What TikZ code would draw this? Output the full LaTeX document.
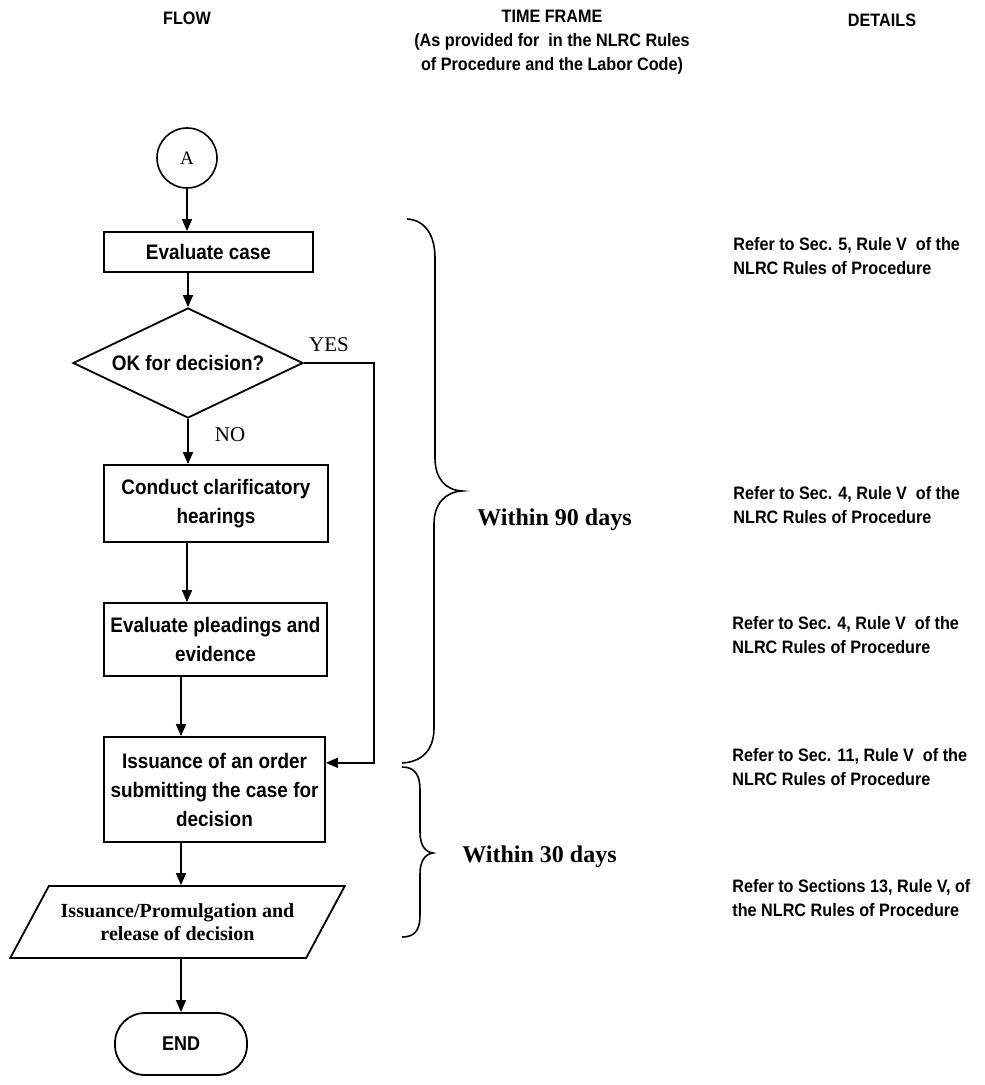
\documentclass[tikz,border=0pt]{standalone}
\usepackage{fontspec}
\setmainfont{Liberation Serif}
\newfontfamily\flowsans[FakeStretch=0.9]{Liberation Sans}
\usetikzlibrary{shapes.geometric,arrows.meta,calc}

\tikzset{
  flowtext/.style={font=\flowsans\bfseries\fontsize{10.5}{14.5}\selectfont, align=center},
  procbox/.style={flowtext, draw, line width=0.9pt, inner sep=0pt},
  arr/.style={-{Triangle[length=6pt,width=5pt]}, line width=0.8pt},
  note/.style={font=\flowsans\bfseries\fontsize{9}{11.75}\selectfont, align=left, anchor=west, inner sep=0pt},
  head/.style={font=\flowsans\bfseries\fontsize{9}{12}\selectfont, align=center},
  days/.style={font=\bfseries\fontsize{12}{14}\selectfont, anchor=west, inner sep=0pt},
  tag/.style={font=\fontsize{10.5}{12}\selectfont},
  brace/.style={line width=0.8pt}
}

\begin{document}
\begin{tikzpicture}[x=0.5pt,y=-0.5pt]
 \useasboundingbox (0,0) rectangle (984,1085);
 \node[head] (hflow) at (187,18) {FLOW};
 \node[head] (htime) at (552,42) {TIME FRAME\\(As provided for\ \ in the NLRC Rules\\of Procedure and the Labor Code)};
 \node[head] (hdet) at (882,20) {DETAILS};

 \node[draw, circle, line width=0.8pt, minimum size=30pt, inner sep=0pt, font=\fontsize{9.5}{11}\selectfont] (A) at (187,158) {A};
 \node[procbox, minimum width=104.5pt, minimum height=20pt] (eval) at (208.5,252) {Evaluate case};
 \node[procbox, diamond, aspect=2.09, minimum width=115pt, minimum height=55pt] (dec) at (188,363) {OK for decision?};
 \node[procbox, minimum width=112pt, minimum height=38.5pt] (conduct) at (216,503.5) {Conduct clarificatory\\hearings};
 \node[procbox, minimum width=111.5pt, minimum height=36.5pt] (plead) at (215.5,639.5) {Evaluate pleadings and\\evidence};
 \node[procbox, minimum width=110.5pt, minimum height=52.5pt] (order) at (214.5,789.5) {Issuance of an order\\submitting the case for\\decision};
 \node[draw, trapezium, trapezium left angle=46.6, trapezium right angle=133.4, trapezium stretches=true, line width=0.9pt, minimum width=167.5pt, minimum height=36pt, inner sep=0pt, font=\bfseries\fontsize{10}{11.5}\selectfont, align=center] (promul) at (177.5,922) {Issuance/Promulgation and\\release of decision};
 \node[procbox, rounded corners=15pt, minimum width=66pt, minimum height=31pt, font=\flowsans\bfseries\fontsize{10}{12}\selectfont] (endn) at (181,1044) {END};

 \draw[arr] (A.south) -- (A.south |- eval.north);
 \draw[arr] (dec.north |- eval.south) -- (dec.north);
 \draw[arr] (dec.south) -- (dec.south |- conduct.north);
 \draw[arr] (conduct.south -| A) -- (plead.north -| A);
 \draw[arr] (plead.south -| endn) -- (order.north -| endn);
 \draw[arr] (order.south -| endn) -- (promul.north -| endn);
 \draw[arr] (promul.south -| endn) -- (endn.north);
 \draw[arr] (dec.east) -- ++(70,0) |- ($(order.north east)!0.25!(order.south east)$);
 \node[tag] (yes) at (329,345) {YES};
 \node[tag] (no) at (230,435) {NO};

 \draw[brace] (407,219) .. controls (425,220) and (435,235) .. (435,258) -- (435,458) .. controls (435,478) and (445,490) .. (462,491) .. controls (445,492) and (434,504) .. (434,524) -- (434,728) .. controls (434,750) and (422,762) .. (402,763);
 \draw[brace] (402,767) .. controls (415,767) and (420,775) .. (420,790) -- (420,832) .. controls (420,845) and (425,852) .. (433,853) .. controls (425,854) and (420,861) .. (420,874) -- (420,915) .. controls (420,930) and (415,937) .. (402,937);
 \node[days] (d90) at (477,520) {Within 90 days};
 \node[days] (d30) at (462,857) {Within 30 days};

 \node[note] (n1) at (733,256) {Refer to Sec. 5, Rule V\ \ of the\\NLRC Rules of Procedure};
 \node[note] (n2) at (733,505) {Refer to Sec. 4, Rule V\ \ of the\\NLRC Rules of Procedure};
 \node[note] (n3) at (732,635) {Refer to Sec. 4, Rule V\ \ of the\\NLRC Rules of Procedure};
 \node[note] (n4) at (732,767) {Refer to Sec. 11, Rule V\ \ of the\\NLRC Rules of Procedure};
 \node[note] (n5) at (732,898) {Refer to Sections 13, Rule V, of\\the NLRC Rules of Procedure};
\end{tikzpicture}
\end{document}
